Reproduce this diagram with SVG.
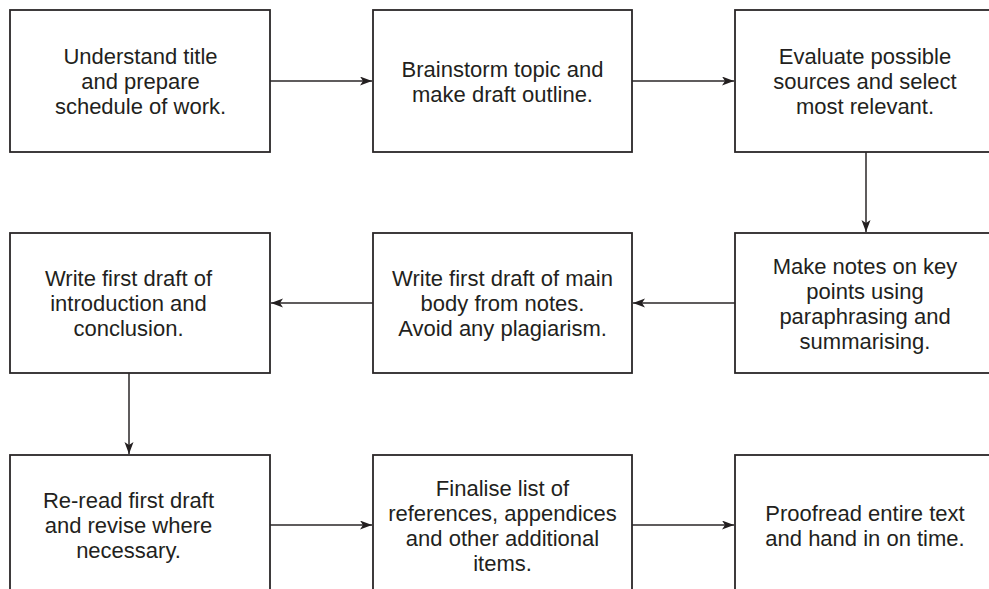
<svg xmlns="http://www.w3.org/2000/svg" width="989" height="589" viewBox="0 0 989 589">
<style>
.box{fill:#fff;stroke:#2a2627;stroke-width:1.8}
.t{font-family:"Liberation Sans",Arial,sans-serif;font-size:22px;fill:#231f20;text-anchor:middle}
.c{stroke:#2a2627;stroke-width:1.5;fill:none}
</style>
<defs>
<marker id="ah" markerUnits="userSpaceOnUse" markerWidth="13" markerHeight="10" refX="12" refY="4.5" orient="auto">
<path d="M0,0 L12,4.5 L0,9 L3,4.5 Z" fill="#231f20"/>
</marker>
</defs>
<rect width="989" height="589" fill="#fff"/>
<g id="connectors">
<line class="c" x1="270" y1="81" x2="372" y2="81" marker-end="url(#ah)"/>
<line class="c" x1="632" y1="81" x2="734" y2="81" marker-end="url(#ah)"/>
<line class="c" x1="866" y1="152" x2="866" y2="232" marker-end="url(#ah)"/>
<line class="c" x1="735" y1="303" x2="633" y2="303" marker-end="url(#ah)"/>
<line class="c" x1="373" y1="303" x2="271" y2="303" marker-end="url(#ah)"/>
<line class="c" x1="129" y1="373" x2="129" y2="454" marker-end="url(#ah)"/>
<line class="c" x1="270" y1="525" x2="372" y2="525" marker-end="url(#ah)"/>
<line class="c" x1="632" y1="525" x2="734" y2="525" marker-end="url(#ah)"/>
</g>
<g id="n1">
<rect class="box" x="10" y="10" width="260" height="142"/>
<text class="t" x="140.5" y="64">Understand title</text>
<text class="t" x="140.5" y="89">and prepare</text>
<text class="t" x="140.5" y="114">schedule of work.</text>
</g>
<g id="n2">
<rect class="box" x="373" y="10" width="259" height="142"/>
<text class="t" x="502.5" y="76.5">Brainstorm topic and</text>
<text class="t" x="502.5" y="101.5">make draft outline.</text>
</g>
<g id="n3">
<rect class="box" x="735" y="10" width="260" height="142"/>
<text class="t" x="865" y="64">Evaluate possible</text>
<text class="t" x="865" y="89">sources and select</text>
<text class="t" x="865" y="114">most relevant.</text>
</g>
<g id="n4">
<rect class="box" x="10" y="233" width="260" height="140"/>
<text class="t" x="128.5" y="286">Write first draft of</text>
<text class="t" x="128.5" y="311">introduction and</text>
<text class="t" x="128.5" y="336">conclusion.</text>
</g>
<g id="n5">
<rect class="box" x="373" y="233" width="259" height="140"/>
<text class="t" x="502.5" y="286">Write first draft of main</text>
<text class="t" x="502.5" y="311">body from notes.</text>
<text class="t" x="502.5" y="336">Avoid any plagiarism.</text>
</g>
<g id="n6">
<rect class="box" x="735" y="233" width="260" height="140"/>
<text class="t" x="865" y="273.5">Make notes on key</text>
<text class="t" x="865" y="298.5">points using</text>
<text class="t" x="865" y="323.5">paraphrasing and</text>
<text class="t" x="865" y="348.5">summarising.</text>
</g>
<g id="n7">
<rect class="box" x="10" y="455" width="260" height="141"/>
<text class="t" x="128.5" y="508">Re-read first draft</text>
<text class="t" x="128.5" y="533">and revise where</text>
<text class="t" x="128.5" y="558">necessary.</text>
</g>
<g id="n8">
<rect class="box" x="373" y="455" width="259" height="141"/>
<text class="t" x="502.5" y="495.5">Finalise list of</text>
<text class="t" x="502.5" y="520.5">references, appendices</text>
<text class="t" x="502.5" y="545.5">and other additional</text>
<text class="t" x="502.5" y="570.5">items.</text>
</g>
<g id="n9">
<rect class="box" x="735" y="455" width="260" height="141"/>
<text class="t" x="865" y="520.5">Proofread entire text</text>
<text class="t" x="865" y="545.5">and hand in on time.</text>
</g>
</svg>
